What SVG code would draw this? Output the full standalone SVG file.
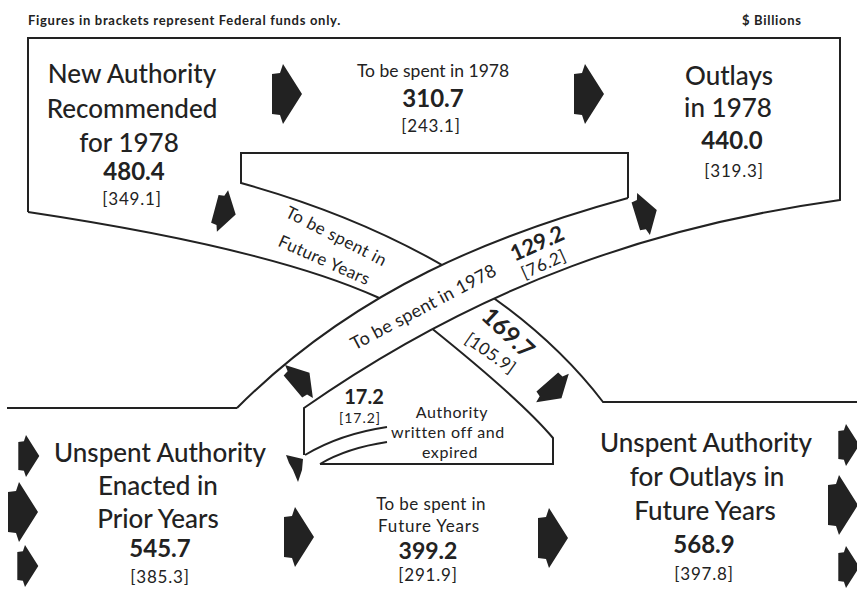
<svg xmlns="http://www.w3.org/2000/svg" xmlns:xlink="http://www.w3.org/1999/xlink" width="857" height="607" viewBox="0 0 857 607">
<defs>
<style>
.ln{fill:none;stroke:#222;stroke-width:2;stroke-linejoin:miter}
.t{font-family:Lato,"Liberation Sans",sans-serif;fill:#222;text-anchor:middle}
.h{font-size:26px;font-weight:500}
.n{font-size:24px;font-weight:700}
.b{font-size:17px;letter-spacing:0.8px}
.s{font-size:17px;letter-spacing:0.5px}
.w{font-size:16px;letter-spacing:0.6px}
.hd{font-size:13px;font-weight:700;letter-spacing:0.7px;text-anchor:start}
.a{fill:#222}
</style>
<path id="arr" d="M-11,-20 L-3,-21 L0,-30 L19,0 L0,30 L-3,21 L-11,20 Z"/>
</defs>
<rect width="857" height="607" fill="#fff"/>

<g id="connectors">
  <!-- 169.7 band (New Authority to future years) -->
  <path class="ln" d="M28,212 Q268,248 377,297 L412,314"/>
  <path class="ln" d="M418,320 L430,327 Q521,400 553,438 V464 H320"/>
  <path class="ln" d="M628,198 V153 H241 V183 C371,219 513,285 603,402 H857"/>
  <!-- bottom-left boundary -->
  <path class="ln" d="M7,408 H237"/>
  <!-- written-off stream -->
  <path class="ln" d="M305,455 Q340,434 387,427"/>
  <path class="ln" d="M320,464 Q347,448 387,442"/>
  <!-- 129.2 band (prior years to outlays), drawn on top -->
  <path d="M237,408 C357,288 497,234 628,198 L840,200 C660,225 484,282 304,408 Z" fill="#fff"/>
  <path class="ln" d="M237,408 C357,288 497,234 628,198"/>
  <path class="ln" d="M28,212 V38 H840 V200 C660,225 484,282 304,408 V455"/>
  <!-- arrows -->
  <use xlink:href="#arr" class="a" transform="translate(283,94)"/>
  <use xlink:href="#arr" class="a" transform="translate(585,94)"/>
  <use xlink:href="#arr" class="a" transform="translate(222.5,211) rotate(15) scale(.72)"/>
  <use xlink:href="#arr" class="a" transform="translate(643.5,214) rotate(-17) scale(.73)"/>
  <use xlink:href="#arr" class="a" transform="translate(299,381.5) rotate(-40) scale(.72)"/>
  <use xlink:href="#arr" class="a" transform="translate(552.5,388) rotate(49) scale(.72)"/>
  <path class="a" d="M286,455 L303,459 L302,470 L298,482 L293,470 L289,463 Z"/>
  <use xlink:href="#arr" class="a" transform="translate(26,456) scale(.7)"/>
  <use xlink:href="#arr" class="a" transform="translate(19,512)"/>
  <use xlink:href="#arr" class="a" transform="translate(25,566) scale(.7)"/>
  <use xlink:href="#arr" class="a" transform="translate(295,537)"/>
  <use xlink:href="#arr" class="a" transform="translate(549,538)"/>
  <use xlink:href="#arr" class="a" transform="translate(846,445) scale(.7)"/>
  <use xlink:href="#arr" class="a" transform="translate(839,505)"/>
  <use xlink:href="#arr" class="a" transform="translate(846,567) scale(.7)"/>
</g>

<g id="header">
  <text class="t hd" x="28" y="25">Figures in brackets represent Federal funds only.</text>
  <text class="t hd" x="742" y="25">$ Billions</text>
</g>

<g id="new-authority">
  <text class="t h" x="132" y="83">New Authority</text>
  <text class="t h" x="132" y="118">Recommended</text>
  <text class="t h" x="129" y="152">for 1978</text>
  <text class="t n" x="134" y="180">480.4</text>
  <text class="t b" x="132" y="205">[349.1]</text>
</g>

<g id="spent-1978">
  <text class="t" style="font-size:17.5px" x="433" y="77">To be spent in 1978</text>
  <text class="t n" x="433" y="107">310.7</text>
  <text class="t b" x="431" y="132">[243.1]</text>
</g>

<g id="outlays">
  <text class="t h" x="729" y="85">Outlays</text>
  <text class="t h" x="728" y="117">in 1978</text>
  <text class="t n" x="732" y="149">440.0</text>
  <text class="t b" x="734" y="177">[319.3]</text>
</g>

<g id="band-future">
  <text class="t s" transform="translate(336,237) rotate(27)" y="5">To be spent in</text>
  <text class="t s" transform="translate(324,261) rotate(24)" y="5">Future Years</text>
  <text class="t n" transform="translate(508,333) rotate(43)" y="8">169.7</text>
  <text class="t s" transform="translate(490,354) rotate(35)" y="5">[105.9]</text>
</g>

<g id="band-1978">
  <text class="t" style="font-size:18px;letter-spacing:0.3px" transform="translate(424,308) rotate(-28)" y="5">To be spent in 1978</text>
  <text class="t" style="font-size:22px;font-weight:700" transform="translate(537,243) rotate(-24)" y="8">129.2</text>
  <text class="t s" transform="translate(544,265) rotate(-24)" y="5">[76.2]</text>
</g>

<g id="written-off">
  <text class="t" style="font-size:20px;font-weight:700" x="364" y="404">17.2</text>
  <text class="t" style="font-size:14px;letter-spacing:1px" x="360" y="423">[17.2]</text>
  <text class="t w" x="452" y="417.5">Authority</text>
  <text class="t w" x="448" y="437.5">written off and</text>
  <text class="t w" x="450" y="457.5">expired</text>
</g>

<g id="unspent-prior">
  <text class="t h" x="160" y="462">Unspent Authority</text>
  <text class="t h" x="158" y="495">Enacted in</text>
  <text class="t h" x="158" y="528">Prior Years</text>
  <text class="t n" x="160" y="557">545.7</text>
  <text class="t b" x="160" y="583">[385.3]</text>
</g>

<g id="spent-future">
  <text class="t" style="font-size:17px;letter-spacing:0.4px" x="431" y="510">To be spent in</text>
  <text class="t" style="font-size:17px;letter-spacing:0.8px" x="429" y="532">Future Years</text>
  <text class="t" style="font-size:23px;font-weight:700" x="428" y="559">399.2</text>
  <text class="t b" x="428" y="581">[291.9]</text>
</g>

<g id="unspent-future">
  <text class="t h" x="706" y="452">Unspent Authority</text>
  <text class="t h" x="707" y="486">for Outlays in</text>
  <text class="t h" x="705" y="520">Future Years</text>
  <text class="t n" x="704" y="553">568.9</text>
  <text class="t b" x="704" y="580">[397.8]</text>
</g>
</svg>
